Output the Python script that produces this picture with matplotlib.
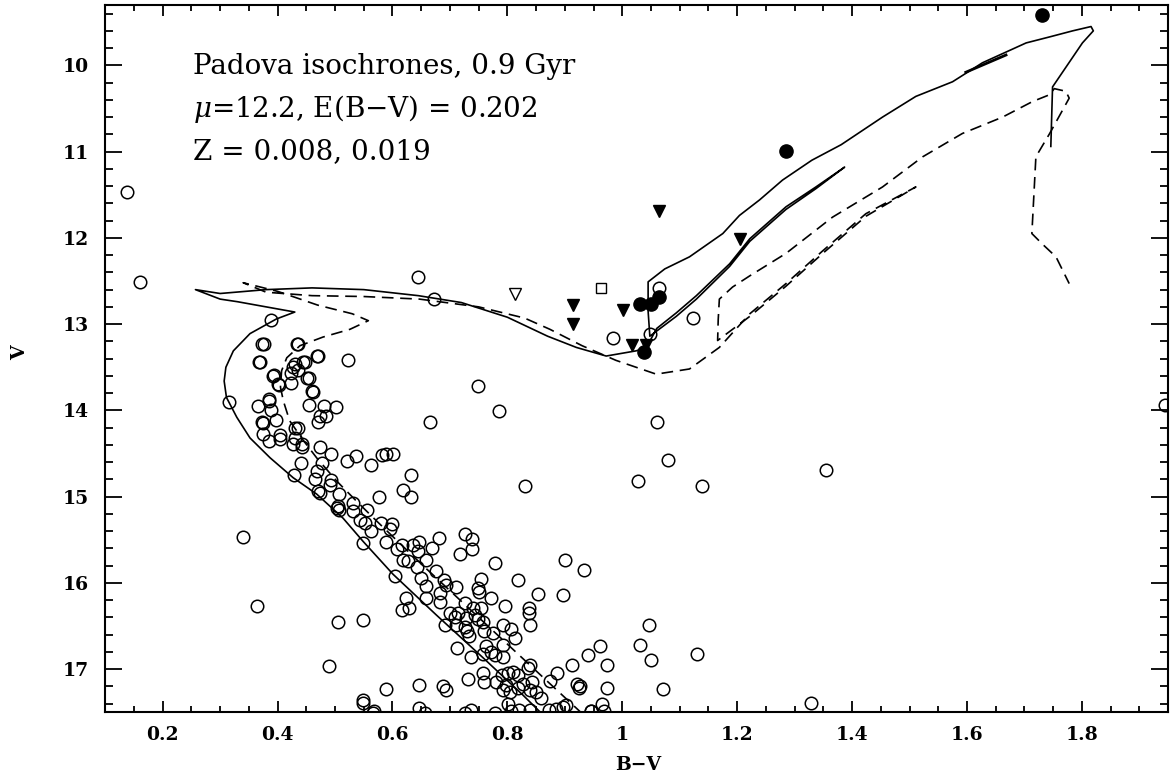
import numpy as np
import matplotlib
matplotlib.use("Agg")
import matplotlib.pyplot as plt
from matplotlib.ticker import MultipleLocator, FuncFormatter

plt.rcParams['font.family'] = ['DejaVu Serif']
plt.rcParams['mathtext.fontset'] = 'dejavuserif'

# ---- cluster photometry (B-V, V) ----
bv_open = [
    0.388, 0.377, 0.436, 0.471, 0.523, 0.369, 0.430, 0.447, 0.436, 0.394,
    0.424, 0.455, 0.402, 0.423, 0.461, 0.748, 0.315, 0.366, 0.385, 0.385,
    0.389, 0.454, 0.481, 0.501, 0.785, 0.474, 0.485, 0.471, 0.375, 0.372,
    0.398, 0.430, 0.436, 0.375, 0.404, 0.385, 0.404, 0.427, 0.430, 0.443,
    0.442, 0.474, 0.493, 0.536, 0.520, 0.563, 0.581, 0.589, 0.601, 0.665,
    0.478, 0.440, 0.468, 0.428, 0.633, 0.465, 0.493, 0.491, 0.471, 0.474,
    0.507, 0.505, 0.507, 0.503, 0.340,
    # lower main sequence
    0.532, 0.555, 0.532, 0.577, 0.618, 0.633, 0.543, 0.552, 0.563, 0.580,
    0.600, 0.595, 0.549, 0.589, 0.616, 0.607, 0.636, 0.647, 0.644, 0.668,
    0.681, 0.727, 0.738, 0.739, 0.718, 0.778, 0.900, 0.934, 0.618, 0.627,
    0.659, 0.642, 0.675, 0.604, 0.649, 0.689, 0.694, 0.659, 0.710, 0.754,
    0.818, 0.853, 0.896, 0.749, 0.750, 0.623, 0.659, 0.682, 0.683, 0.616,
    0.629, 0.727, 0.740, 0.754, 0.771, 0.795, 0.837, 0.837, 0.839, 0.700,
    0.708, 0.714, 0.728, 0.743, 0.749, 0.727, 0.729, 0.734, 0.691, 0.711,
    0.757, 0.760, 0.775, 0.792, 0.807, 0.814, 0.549, 0.712, 0.763, 0.772,
    0.757, 0.778, 0.792, 0.736, 0.792, 0.839, 0.836, 0.790, 0.801, 0.810,
    0.818, 0.757, 0.760, 0.731, 0.781, 0.798, 0.804, 0.818, 0.827, 0.842,
    0.839, 0.850, 0.859, 0.874, 0.886, 0.913, 0.940, 0.962, 0.974, 0.922,
    0.924, 0.974, 0.897, 0.902, 0.885, 0.872, 0.946, 0.965, 0.969, 0.793,
    0.801, 0.821, 0.839, 0.807, 0.778, 0.737, 0.726, 0.647, 0.656, 0.647,
    0.688, 0.694, 0.589, 0.549, 0.566, 1.047, 1.030, 1.050, 1.071, 1.130,
    1.139, 1.027, 0.830, 0.945, 1.329, 0.926,
    # scattered field stars
    0.138, 0.161, 0.645, 0.673, 0.373, 0.433, 0.367, 0.468, 0.392, 0.400,
    0.427, 0.445, 0.452, 0.460, 0.365, 1.064, 1.123, 1.048, 0.983,
    1.945, 1.355, 1.080, 1.060, 0.505, 0.490, 0.548, 0.567,
]
v_open = [
    12.95, 13.23, 13.23, 13.37, 13.42, 13.44, 13.46, 13.44, 13.53, 13.59,
    13.57, 13.63, 13.70, 13.68, 13.79, 13.72, 13.90, 13.95, 13.89, 13.87,
    14.00, 13.94, 13.95, 13.96, 14.01, 14.06, 14.06, 14.14, 14.15, 14.13,
    14.11, 14.20, 14.20, 14.27, 14.29, 14.36, 14.33, 14.39, 14.32, 14.39,
    14.43, 14.42, 14.51, 14.53, 14.59, 14.63, 14.52, 14.50, 14.51, 14.14,
    14.61, 14.61, 14.70, 14.75, 14.75, 14.80, 14.81, 14.87, 14.93, 14.96,
    14.97, 15.11, 15.15, 15.13, 15.47,
    15.07, 15.15, 15.17, 15.01, 14.92, 15.01, 15.27, 15.30, 15.40, 15.30,
    15.32, 15.38, 15.54, 15.53, 15.56, 15.61, 15.56, 15.53, 15.63, 15.59,
    15.48, 15.43, 15.49, 15.61, 15.66, 15.77, 15.73, 15.85, 15.74, 15.75,
    15.73, 15.82, 15.86, 15.92, 15.94, 15.97, 16.02, 16.04, 16.05, 15.96,
    15.97, 16.13, 16.14, 16.06, 16.10, 16.18, 16.18, 16.12, 16.22, 16.31,
    16.29, 16.23, 16.29, 16.29, 16.17, 16.27, 16.29, 16.35, 16.49, 16.35,
    16.39, 16.35, 16.41, 16.37, 16.42, 16.51, 16.56, 16.62, 16.49, 16.49,
    16.45, 16.56, 16.58, 16.49, 16.54, 16.64, 16.43, 16.75, 16.73, 16.80,
    16.82, 16.84, 16.86, 16.86, 16.72, 16.95, 16.99, 17.07, 17.05, 17.03,
    17.07, 17.05, 17.15, 17.11, 17.15, 17.18, 17.26, 17.22, 17.17, 17.15,
    17.24, 17.26, 17.34, 17.14, 17.04, 16.95, 16.84, 16.73, 16.95, 17.17,
    17.22, 17.22, 17.44, 17.42, 17.46, 17.47, 17.49, 17.40, 17.49, 17.24,
    17.40, 17.47, 17.47, 17.49, 17.51, 17.47, 17.51, 17.45, 17.51, 17.18,
    17.19, 17.24, 17.23, 17.39, 17.51, 16.49, 16.72, 16.89, 17.23, 16.83,
    14.88, 14.82, 14.88, 17.49, 17.39, 17.20,
    11.47, 12.51, 12.45, 12.71, 13.23, 13.23, 13.44, 13.37, 13.60, 13.69,
    13.50, 13.44, 13.63, 13.78, 16.27, 12.58, 12.93, 13.11, 13.16,
    13.94, 14.69, 14.57, 14.13, 16.45, 16.96, 17.36, 17.48,
]

# red giants / clump stars with different membership flags
bv_filled = [1.730, 1.285, 1.064, 1.050, 1.030, 1.038]
v_filled = [9.42, 10.99, 12.69, 12.77, 12.77, 13.32]
bv_tri = [1.064, 1.205, 0.915, 1.001, 0.915, 1.017, 1.042]
v_tri = [11.69, 12.01, 12.78, 12.84, 13.00, 13.24, 13.24]
bv_opentri = [0.813]
v_opentri = [12.65]
bv_square = [0.963]
v_square = [12.58]

# ---- Padova isochrones, 0.9 Gyr ----
# Z = 0.008 (solid)
iso1_bv = [0.862, 0.827, 0.758, 0.676, 0.601, 0.549, 0.514, 0.468, 0.427, 0.387,
           0.352, 0.329, 0.311, 0.307, 0.310, 0.323, 0.352, 0.398, 0.430,
           0.380, 0.330, 0.300, 0.257,
           0.300, 0.380, 0.460, 0.550, 0.645, 0.720, 0.800, 0.870, 0.920, 0.972,
           1.024, 1.042,
           1.060, 1.094, 1.129, 1.187, 1.222, 1.285, 1.337, 1.387,
           1.337, 1.285, 1.222, 1.187, 1.129, 1.094, 1.060, 1.048,
           1.045, 1.045,
           1.074, 1.117, 1.175, 1.204, 1.239, 1.279, 1.330, 1.381, 1.453, 1.511,
           1.575, 1.627, 1.703, 1.744, 1.784, 1.816, 1.820, 1.801, 1.749, 1.746]
iso1_v = [17.53, 17.30, 16.87, 16.37, 15.90, 15.52, 15.25, 14.97, 14.78, 14.55,
          14.32, 14.08, 13.85, 13.66, 13.50, 13.31, 13.11, 12.94, 12.86,
          12.80, 12.74, 12.71, 12.60,
          12.645, 12.60, 12.58, 12.60, 12.67, 12.75, 12.92, 13.14, 13.27, 13.37,
          13.31, 13.27,
          13.05, 12.87, 12.67, 12.30, 12.01, 11.64, 11.41, 11.18,
          11.43, 11.67, 12.04, 12.33, 12.71, 12.91, 13.08, 13.14,
          12.85, 12.51,
          12.36, 12.22, 11.95, 11.74, 11.56, 11.33, 11.10, 10.92, 10.60, 10.36,
          10.19, 9.97, 9.74, 9.67, 9.60, 9.55, 9.60, 9.74, 10.25, 10.94]
iso1b_bv = [1.598, 1.668]
iso1b_v = [10.08, 9.88]

# Z = 0.019 (dashed)
iso2_bv = [0.931, 0.850, 0.750, 0.650, 0.572, 0.537, 0.503, 0.468, 0.445, 0.421,
           0.410, 0.405, 0.407, 0.416, 0.439, 0.479, 0.526, 0.558,
           0.530, 0.470, 0.400, 0.340,
           0.380, 0.460, 0.550, 0.647, 0.750, 0.830, 0.874, 0.930, 0.989, 1.059,
           1.117, 1.169,
           1.222, 1.285, 1.349, 1.424, 1.511,
           1.424, 1.349, 1.285, 1.222, 1.166,
           1.167, 1.169,
           1.192, 1.222, 1.285, 1.366, 1.453, 1.523, 1.592, 1.662, 1.714, 1.744,
           1.752, 1.772, 1.778, 1.744, 1.720, 1.713, 1.731, 1.755, 1.778]
iso2_v = [17.52, 17.02, 16.40, 15.78, 15.28, 15.05, 14.82, 14.55, 14.35, 14.12,
          13.89, 13.73, 13.54, 13.39, 13.25, 13.15, 13.06, 12.96,
          12.88, 12.78, 12.62, 12.52,
          12.63, 12.67, 12.68, 12.71, 12.80, 12.93, 13.06, 13.25, 13.42, 13.58,
          13.52, 13.27,
          12.88, 12.53, 12.15, 11.72, 11.41,
          11.75, 12.18, 12.56, 12.91, 13.19,
          12.95, 12.71,
          12.57, 12.44, 12.18, 11.76, 11.41, 11.06, 10.79, 10.60, 10.42, 10.34,
          10.27, 10.30, 10.38, 10.79, 11.06, 11.95, 12.07, 12.22, 12.53]

fig = plt.figure(figsize=(11.72, 7.77), dpi=100)
ax = fig.add_axes([0.0898, 0.0833, 0.9068, 0.9103])

ax.plot(iso1_bv, iso1_v, '-', color='black', lw=1.2)
ax.plot(iso1b_bv, iso1b_v, '-', color='black', lw=2.0)
ax.plot(iso2_bv, iso2_v, color='black', lw=1.2, linestyle=(0, (7, 4)))

ax.plot(bv_open, v_open, 'o', mfc='none', mec='black', mew=1.1, ms=9)
ax.plot(bv_filled, v_filled, 'o', color='black', ms=9.5)
ax.plot(bv_tri, v_tri, 'v', color='black', ms=9)
ax.plot(bv_opentri, v_opentri, 'v', mfc='none', mec='black', mew=1.0, ms=8)
ax.plot(bv_square, v_square, 's', mfc='none', mec='black', mew=1.0, ms=6.5)

ax.set_xlim(0.1, 1.95)
ax.set_ylim(17.5, 9.3)

ax.xaxis.set_major_locator(MultipleLocator(0.2))
ax.xaxis.set_minor_locator(MultipleLocator(0.05))
ax.yaxis.set_major_locator(MultipleLocator(1))
ax.yaxis.set_minor_locator(MultipleLocator(0.2))
ax.xaxis.set_major_formatter(FuncFormatter(lambda v, p: '%g' % round(v, 2)))
ax.tick_params(axis='both', which='both', direction='in', top=True, right=True,
               width=1.3, labelsize=13.5)
ax.tick_params(axis='x', which='major', length=8, pad=10)
ax.tick_params(axis='x', which='minor', length=4)
ax.tick_params(axis='y', which='major', length=12, pad=12)
ax.tick_params(axis='y', which='minor', length=6)
for lab in ax.get_xticklabels() + ax.get_yticklabels():
    lab.set_fontweight('bold')
for s in ax.spines.values():
    s.set_linewidth(1.5)

ax.set_xlabel('B\u2212V', fontsize=13.5, fontweight='bold')
ax.xaxis.set_label_coords(0.501, -0.075)
ax.xaxis.label.set_va('center')
ax.set_ylabel('V', fontsize=13.5, fontweight='bold')
ax.yaxis.set_label_coords(-0.080, 0.508)
ax.yaxis.label.set_va('center')

txt = dict(fontsize=20, ha='left', va='baseline')
ax.text(0.253, 10.10, 'Padova isochrones, 0.9 Gyr', **txt)
ax.text(0.253, 10.60, '$\\mu$=12.2, E(B\u2212V) = 0.202', **txt)
ax.text(0.253, 11.09, 'Z = 0.008, 0.019', **txt)

fig.savefig('out.png', dpi=100)
